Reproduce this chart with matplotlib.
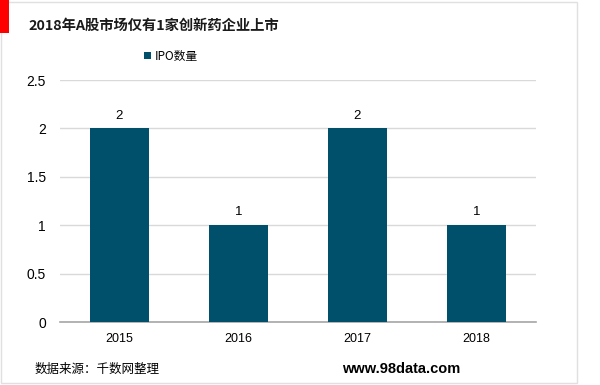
import matplotlib.pyplot as plt
from matplotlib.patches import Rectangle

plt.rcParams['font.family'] = ['Noto Sans CJK SC', 'DejaVu Sans']

years = ['2015', '2016', '2017', '2018']
ipo_count = [2, 1, 2, 1]
yticks = [0, 0.5, 1, 1.5, 2, 2.5]
ytick_labels = ['0', '0.5', '1', '1.5', '2', '2.5']

fig = plt.figure(figsize=(6, 3.85), dpi=100)

# frame and red marker
fig.patches.append(Rectangle((0.002, 0.006), 0.96, 0.99, transform=fig.transFigure,
                             fill=False, edgecolor='#e0e0e0', linewidth=1))
fig.patches.append(Rectangle((0, 1 - 33 / 385), 9 / 600, 33 / 385, transform=fig.transFigure,
                             facecolor='#ff0000', edgecolor='none'))

fig.text(28 / 600, 1 - 26 / 385, '2018年A股市场仅有1家创新药企业上市', fontsize=10.3,
         fontweight='bold', va='center', ha='left', color='#1a1a1a')

ax = fig.add_axes([60 / 600, 1 - 322 / 385, 476 / 600, 242 / 385])
x = list(range(len(years)))
bars = ax.bar(x, ipo_count, width=0.5, color='#00506b', label='IPO数量', zorder=3)
for xi, v in zip(x, ipo_count):
    ax.text(xi, v + 0.07, str(v), ha='center', va='bottom', fontsize=9.5,
            family=['Liberation Sans', 'DejaVu Sans'])

ax.set_xlim(-0.5, len(years) - 0.5)
ax.set_ylim(0, 2.5)
ax.set_xticks(x)
ax.set_xticklabels(years, family=['Liberation Sans', 'DejaVu Sans'], fontsize=9)
ax.set_yticks(yticks)
ax.set_yticklabels(ytick_labels, family=['Liberation Sans', 'DejaVu Sans'], fontsize=10)
ax.tick_params(length=0, pad=10)
ax.tick_params(axis='x', pad=8)
ax.grid(axis='y', color='#d9d9d9', linewidth=1, zorder=0)
for s in ['top', 'right', 'left']:
    ax.spines[s].set_visible(False)
ax.spines['bottom'].set_color('#a6a6a6')
ax.spines['bottom'].set_linewidth(1.2)

ax.legend(loc='center left', bbox_to_anchor=(133 / 600, 1 - 56 / 385),
          bbox_transform=fig.transFigure, frameon=False, fontsize=8.5,
          handlelength=0.6, handleheight=0.6, handletextpad=0.3)

fig.text(35 / 600, 1 - 369 / 385, '数据来源：千数网整理', fontsize=9, va='center', ha='left')
fig.text(460 / 600, 1 - 369 / 385, 'www.98data.com', fontsize=10.5, fontweight='bold',
         va='center', ha='right', family=['Liberation Sans', 'DejaVu Sans'])

fig.savefig('out.png', dpi=100)
